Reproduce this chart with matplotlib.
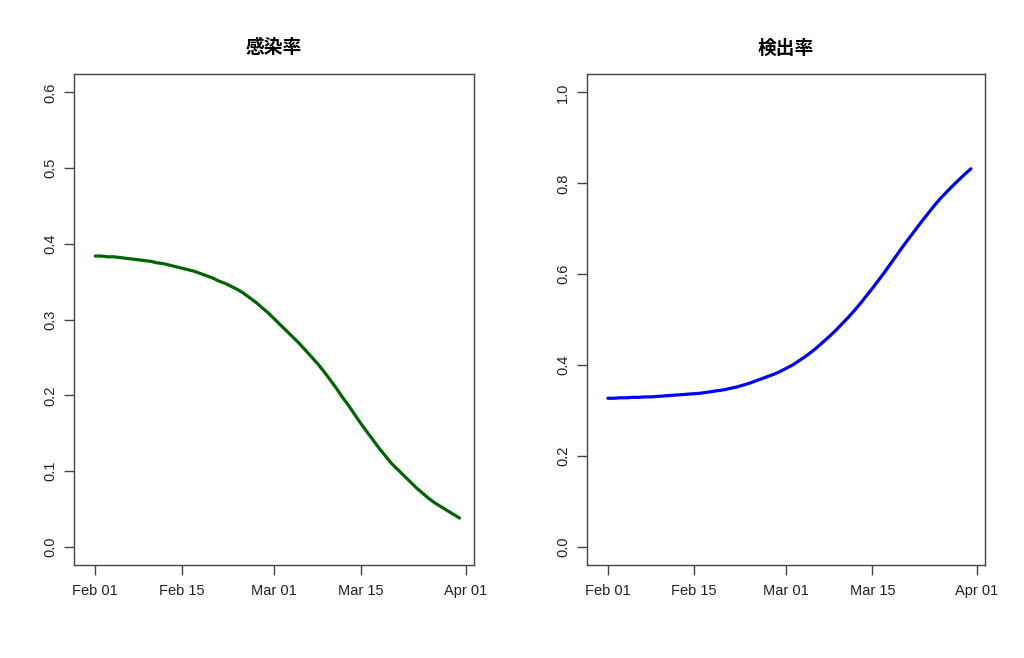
import matplotlib
matplotlib.use("Agg")
import matplotlib.pyplot as plt
import matplotlib.dates as mdates
import numpy as np
import datetime as dt

plt.rcParams['font.family'] = ['Liberation Sans', 'Noto Sans CJK JP', 'DejaVu Sans']

start_date = "2020-02-01"
n_days = 60
titles = ["感染率", "検出率"]
colors = ["#006400", "#0000FF"]

infection_rate = [0.384, 0.384, 0.383, 0.383, 0.382, 0.381, 0.380, 0.379, 0.378, 0.377,
                  0.375, 0.374, 0.372, 0.370, 0.368, 0.366, 0.364, 0.361, 0.358, 0.355,
                  0.351, 0.348, 0.344, 0.340, 0.335, 0.329, 0.323, 0.316, 0.309, 0.301,
                  0.293, 0.285, 0.277, 0.269, 0.260, 0.251, 0.242, 0.232, 0.221, 0.210,
                  0.198, 0.187, 0.175, 0.163, 0.152, 0.141, 0.130, 0.120, 0.110, 0.102,
                  0.094, 0.086, 0.078, 0.071, 0.064, 0.058, 0.053, 0.048, 0.043, 0.038]

detection_rate = [0.327, 0.327, 0.328, 0.328, 0.329, 0.329, 0.330, 0.330, 0.331, 0.332,
                  0.333, 0.334, 0.335, 0.336, 0.337, 0.338, 0.340, 0.342, 0.344, 0.346,
                  0.349, 0.352, 0.356, 0.360, 0.365, 0.370, 0.375, 0.380, 0.386, 0.393,
                  0.400, 0.409, 0.418, 0.428, 0.439, 0.451, 0.463, 0.476, 0.490, 0.504,
                  0.519, 0.535, 0.552, 0.569, 0.587, 0.605, 0.624, 0.643, 0.662, 0.680,
                  0.698, 0.716, 0.733, 0.750, 0.766, 0.780, 0.794, 0.807, 0.820, 0.832]

y_ticks = [[0.0, 0.1, 0.2, 0.3, 0.4, 0.5, 0.6], [0.0, 0.2, 0.4, 0.6, 0.8, 1.0]]
y_limits = [(0.0, 0.6), (0.0, 1.0)]
x_tick_dates = ["2020-02-01", "2020-02-15", "2020-03-01", "2020-03-15", "2020-04-01"]
x_tick_labels = ["Feb 01", "Feb 15", "Mar 01", "Mar 15", "Apr 01"]

d0 = dt.datetime.strptime(start_date, "%Y-%m-%d")
dates = [d0 + dt.timedelta(days=i) for i in range(n_days)]
xticks = [dt.datetime.strptime(s, "%Y-%m-%d") for s in x_tick_dates]

fig = plt.figure(figsize=(10.24, 6.58), dpi=100)
axes_pos = [[74.3 / 1024, 1 - 565 / 658, (473.7 - 74.3) / 1024, (565 - 74.3) / 658],
            [587 / 1024, 1 - 565 / 658, (985 - 587) / 1024, (565 - 74.3) / 658]]

series = [infection_rate, detection_rate]
for k in range(2):
    ax = fig.add_axes(axes_pos[k])
    ax.plot(dates, series[k], color=colors[k], lw=2.3, solid_capstyle='round')
    lo, hi = y_limits[k]
    r = hi - lo
    ax.set_ylim(lo - 0.04 * r, hi + 0.04 * r)
    xs = mdates.date2num(d0)
    ax.set_xlim(xs - 3.4, xs + 61.3)
    ax.set_yticks(y_ticks[k])
    ax.set_yticklabels([f"{v:.1f}" for v in y_ticks[k]], rotation=90, va='center')
    ax.set_xticks(xticks)
    ax.set_xticklabels(x_tick_labels)
    ax.tick_params(direction='out', length=7, width=1, color='#444444',
                   labelsize=10.5, labelcolor='#222222', pad=7)
    ax.tick_params(axis='y', pad=5)
    for s in ax.spines.values():
        s.set_color('#444444')
        s.set_linewidth(1)
    ax.set_title(titles[k], fontsize=13.5, fontweight='bold',
                 family=['Noto Sans CJK JP', 'DejaVu Sans'], pad=15)

fig.savefig("out.png", dpi=100)
